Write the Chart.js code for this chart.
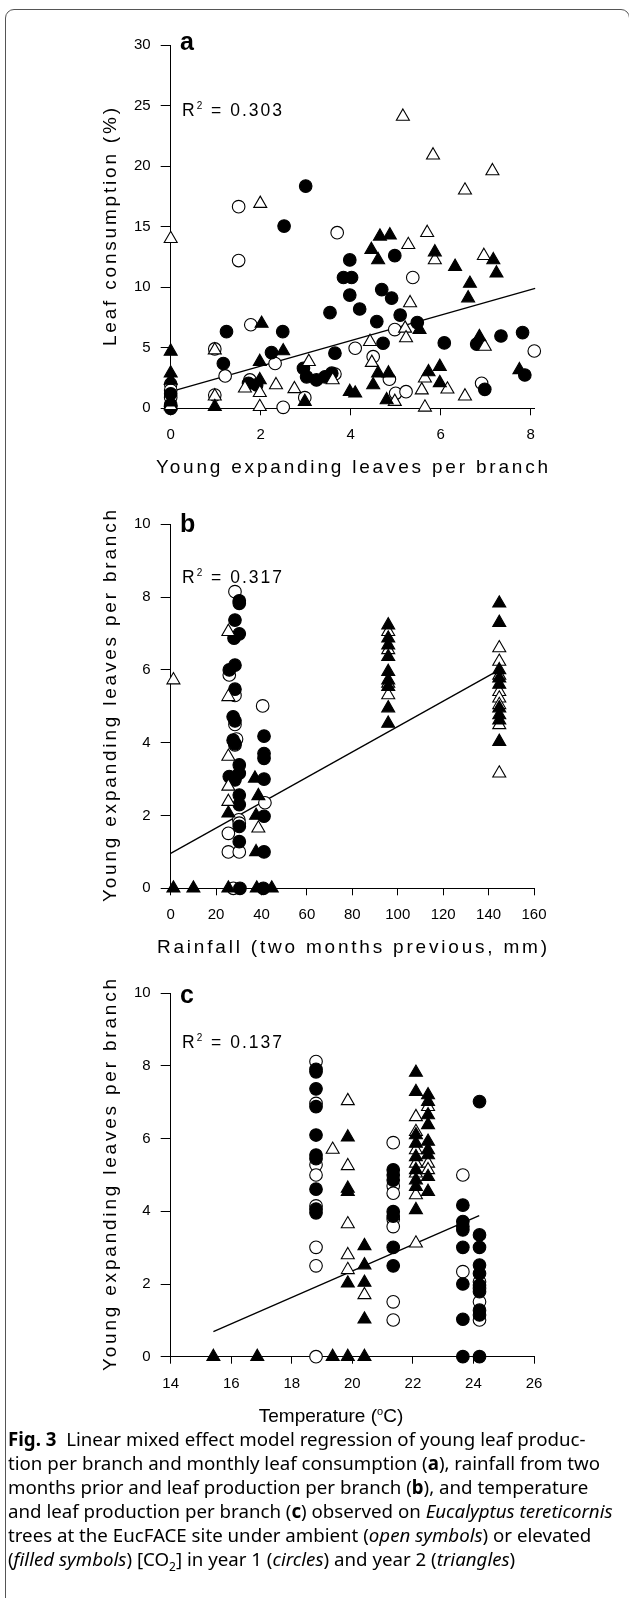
<!DOCTYPE html>
<html>
<head>
<meta charset="utf-8">
<script src="https://cdn.jsdelivr.net/npm/chart.js@4.4.0/dist/chart.umd.min.js"></script>
<style>
  html, body { margin: 0; padding: 0; background: #fff; }
  body { width: 629px; height: 1598px; position: relative; overflow: hidden; font-family: 'Liberation Sans', Arial, sans-serif; color: #000; }
  #frame { position: absolute; left: 5px; top: 9px; width: 625px; height: 1640px; border: 1px solid #555; border-radius: 9px; box-sizing: border-box; }
  canvas { position: absolute; left: 0; }
  .lbl { position: absolute; white-space: nowrap; z-index: 3; }
  .ttl { font-size: 19px; line-height: 19px; letter-spacing: 2.8px; padding-left: 2.8px; }
  .ytl { left: 109px; transform: translate(-50%, -50%) rotate(-90deg); }
  .xtl { left: 352px; transform: translateX(-50%); }
  .tmp { left: 331px; letter-spacing: 0; padding-left: 0; }
  .pl { font-size: 25px; line-height: 25px; font-weight: bold; left: 180px; }
  .r2 { font-size: 17.5px; line-height: 17.5px; letter-spacing: 2px; left: 182px; }
  .r2 sup { font-size: 10px; line-height: 0; vertical-align: 7px; letter-spacing: 0; margin-right: 2px; }
  #cap { position: absolute; left: 8px; top: 1427px; font-family: 'Noto Sans', sans-serif; font-size: 18.7px; line-height: 24.1px; z-index: 3; }
  #cap div { white-space: nowrap; }
  #cap sub { font-size: 12px; line-height: 0; }
</style>
</head>
<body>
<div id="frame"></div>

<canvas id="chartA" width="629" height="480" style="top:0px"></canvas>
<canvas id="chartB" width="629" height="480" style="top:479px"></canvas>
<canvas id="chartC" width="629" height="480" style="top:948px"></canvas>

<div class="lbl pl" style="top:29px">a</div>
<div class="lbl pl" style="top:510.5px">b</div>
<div class="lbl pl" style="top:982px">c</div>

<div class="lbl r2" style="top:102.2px">R<sup>2</sup> = 0.303</div>
<div class="lbl r2" style="top:568.8px">R<sup>2</sup> = 0.317</div>
<div class="lbl r2" style="top:1033.8px">R<sup>2</sup> = 0.137</div>

<div class="lbl ttl ytl" style="top:226.5px">Leaf consumption (%)</div>
<div class="lbl ttl ytl" style="top:706.3px">Young expanding leaves per branch</div>
<div class="lbl ttl ytl" style="top:1175px">Young expanding leaves per branch</div>

<div class="lbl ttl xtl" style="top:457px">Young expanding leaves per branch</div>
<div class="lbl ttl xtl" style="top:937px">Rainfall (two months previous, mm)</div>
<div class="lbl ttl xtl tmp" style="top:1406px">Temperature (<sup style="font-size:11px;line-height:0">o</sup>C)</div>

<div id="cap">
  <div><b>Fig. 3</b>&nbsp; Linear mixed effect model regression of young leaf produc-</div>
  <div>tion per branch and monthly leaf consumption (<b>a</b>), rainfall from two</div>
  <div>months prior and leaf production per branch (<b>b</b>), and temperature</div>
  <div>and leaf production per branch (<b>c</b>) observed on <i>Eucalyptus tereticornis</i></div>
  <div>trees at the EucFACE site under ambient (<i>open symbols</i>) or elevated</div>
  <div>(<i>filled symbols</i>) [CO<sub>2</sub>] in year 1 (<i>circles</i>) and year 2 (<i>triangles</i>)</div>
</div>

<script>
// ---- panel a: leaf consumption (%) vs young expanding leaves per branch
const aXTicks = [0, 2, 4, 6, 8]
const aYTicks = [0, 5, 10, 15, 20, 25, 30]
const aOpenCircles = [[1.51,16.65],[1.51,12.2],[3.7,14.5],[1.78,6.9],[0.98,4.9],[1.21,2.67],[0.98,1.1],[2.32,3.7],[1.76,2.34],[2.5,0.08],[2.98,0.88],[3.65,2.83],[4.1,4.96],[4.5,4.26],[5.38,10.8],[4.98,6.5],[4.86,2.4],[5.0,1.24],[5.23,1.37],[6.91,2.07],[8.08,4.73],[0,2.0],[0,1.5],[0,0.9]]
const aFilledCircles = [[3.0,18.35],[2.52,15.05],[1.24,6.33],[2.49,6.33],[1.17,3.7],[2.24,4.6],[1.73,2.07],[1.91,1.93],[2.95,3.3],[3.02,2.6],[3.24,2.34],[3.43,2.6],[3.58,2.9],[3.65,4.55],[3.54,7.9],[3.84,10.8],[4.02,10.8],[3.98,12.25],[3.98,9.35],[4.2,8.2],[4.69,9.8],[4.91,9.1],[5.1,7.7],[5.48,7.08],[4.58,7.16],[4.72,5.37],[4.98,12.6],[6.08,5.4],[6.8,5.3],[7.34,5.97],[7.82,6.25],[7.87,2.75],[6.98,1.57],[0,0],[0,0.3],[0,1.2]]
const aOpenTriangles = [[0,14.0],[1.99,16.9],[5.16,24.1],[5.83,20.9],[7.15,19.6],[6.54,18.0],[5.7,14.5],[5.28,13.5],[5.87,12.25],[6.96,12.6],[5.32,8.7],[5.21,6.6],[5.23,5.8],[4.43,5.5],[4.47,3.77],[0.98,4.8],[3.07,3.85],[2.34,1.93],[1.65,1.65],[1.98,1.29],[1.98,0.13],[2.75,1.6],[3.6,2.34],[6.98,5.1],[5.65,2.48],[5.58,1.5],[6.15,1.57],[6.54,1.0],[5.65,0.08],[4.98,0.55],[0.98,1.0],[0,0.2]]
const aFilledTriangles = [[0,4.7],[0,2.9],[0,2.3],[0,0.5],[0.98,0.13],[2.02,7.0],[1.98,3.85],[1.98,2.34],[2.5,4.73],[2.98,0.55],[4.1,1.24],[4.65,14.2],[4.87,14.3],[4.46,13.1],[4.61,12.25],[5.87,12.9],[6.32,11.7],[7.17,12.25],[7.24,11.16],[6.65,10.3],[6.61,9.1],[5.53,6.5],[6.86,5.9],[7.75,3.17],[5.73,3.0],[5.98,3.44],[5.98,2.1],[4.61,2.9],[4.84,2.9],[4.5,1.93],[4.8,0.69],[3.98,1.37]]
const aFit = [[0,1.38],[8.1,9.9]]

// ---- panel b: young expanding leaves per branch vs rainfall
const bXTicks = [0, 20, 40, 60, 80, 100, 120, 140, 160]
const bYTicks = [0, 2, 4, 6, 8, 10]
const bOpenCircles = [[28.3,8.15],[25.8,5.86],[28.3,5.3],[28.3,4.5],[29,4.1],[28.3,3.94],[30,1.88],[30.2,1.79],[25.4,1.51],[25.4,1.0],[30.2,1.0],[27.6,0],[40.5,5.01],[41.5,2.35]]
const bFilledCircles = [[30.2,7.83],[30.2,7.9],[28.3,7.37],[30.2,6.99],[27.9,6.87],[28.3,6.13],[25.8,6.0],[28.3,5.47],[27.5,4.71],[28.3,4.6],[27.5,4.07],[28.3,3.97],[30.2,3.39],[30.2,3.16],[25.8,3.07],[28.3,2.98],[30.2,2.56],[30.2,2.3],[30.2,1.7],[30.2,1.28],[30.5,0],[41.1,4.18],[41.1,3.7],[41.1,3.57],[41.1,3.0],[41.1,1.98],[41.1,1.0],[40.8,0]]
const bOpenTriangles = [[1.2,5.72],[25.4,7.05],[25.4,5.26],[25.4,3.62],[25.4,2.8],[25.4,2.38],[38.6,1.65],[95.8,7.05],[95.8,6.55],[95.8,5.63],[95.8,5.31],[144.7,6.6],[144.7,6.23],[144.7,5.85],[144.7,5.4],[144.7,5.22],[144.7,5.04],[144.7,4.49],[144.7,3.16]]
const bFilledTriangles = [[1.2,0],[10,0],[25.4,2.06],[25.4,0],[37.1,3.02],[38.6,2.54],[37.6,2.0],[37.6,1.0],[37.9,0],[44.5,0],[95.8,7.23],[95.8,6.87],[95.8,6.68],[95.8,6.36],[95.8,5.95],[95.8,5.72],[95.8,5.54],[95.8,4.95],[95.8,4.53],[144.7,7.83],[144.7,7.3],[144.7,6.0],[144.7,5.77],[144.7,5.6],[144.7,4.95],[144.7,4.76],[144.7,4.62],[144.7,4.03]]
const bFit = [[0,0.96],[144.7,6.0]]

// ---- panel c: young expanding leaves per branch vs temperature
const cXTicks = [14, 16, 18, 20, 22, 24, 26]
const cYTicks = [0, 2, 4, 6, 8, 10]
const cOpenCircles = [[18.8,8.12],[18.8,6.97],[18.8,5.28],[18.8,5.0],[18.8,4.15],[18.8,3.01],[18.8,2.5],[18.8,0],[21.35,5.89],[21.35,4.7],[21.35,4.5],[21.35,3.78],[21.35,3.58],[21.35,1.51],[21.35,1.01],[23.65,5.0],[23.65,2.34],[24.2,2.06],[24.2,1.88],[24.2,1.51],[24.2,1.01]]
const cFilledCircles = [[18.8,7.91],[18.8,7.84],[18.8,7.37],[18.8,6.88],[18.8,6.1],[18.8,5.55],[18.8,5.45],[18.8,4.61],[18.8,4.06],[18.8,3.96],[21.35,5.14],[21.35,5.0],[21.35,4.86],[21.35,3.99],[21.35,3.87],[21.35,3.01],[21.35,2.5],[23.65,4.17],[23.65,3.72],[23.65,3.58],[23.65,3.49],[23.65,3.01],[23.65,2.0],[23.65,1.03],[23.65,0],[24.2,7.02],[24.2,3.35],[24.2,3.01],[24.2,2.52],[24.2,2.29],[24.2,1.97],[24.2,1.79],[24.2,1.28],[24.2,1.15],[24.2,0]]
const cOpenTriangles = [[19.35,5.7],[19.85,7.04],[19.85,5.25],[19.85,3.65],[19.85,2.8],[19.85,2.39],[20.4,1.7],[22.1,6.6],[22.1,6.19],[22.1,5.69],[22.1,5.32],[22.1,5.05],[22.1,4.45],[22.1,3.12],[22.5,6.88],[22.5,5.32],[22.5,5.14]]
const cFilledTriangles = [[15.41,0],[16.86,0],[19.35,0],[19.85,6.04],[19.85,4.63],[19.85,4.54],[19.85,2.02],[19.85,0],[20.4,3.05],[20.4,2.52],[20.4,2.04],[20.4,1.03],[20.4,0],[22.1,7.82],[22.1,7.29],[22.1,6.1],[22.1,5.87],[22.1,5.5],[22.1,5.14],[22.1,4.86],[22.1,4.68],[22.1,4.04],[22.5,7.2],[22.5,7.02],[22.5,6.65],[22.5,6.38],[22.5,5.92],[22.5,5.69],[22.5,5.55],[22.5,4.95],[22.5,4.54]]
const cFit = [[15.41,0.69],[24.19,3.88]]

const TICK_FONT = { family: "'Liberation Sans', Arial, sans-serif", size: 15 }

function toXY(points) {
  return points.map(([x, y]) => ({ x, y }))
}

function markers(points, style, fill) {
  return {
    data: toXY(points),
    pointStyle: style,
    pointRadius: style === 'triangle' ? 7.5 : 6.3,
    backgroundColor: fill, borderColor: '#000', borderWidth: 1.1,
    showLine: false, clip: false
  }
}

function renderPanel(id, p) {
  new Chart(document.getElementById(id), {
    type: 'scatter',
    data: {
      datasets: [
        // first dataset is drawn on top
        markers(p.filledTriangles, 'triangle', '#000'),
        markers(p.openTriangles, 'triangle', '#fff'),
        markers(p.filledCircles, 'circle', '#000'),
        markers(p.openCircles, 'circle', '#fff'),
        { data: toXY(p.fit), showLine: true, pointRadius: 0, borderColor: '#000', borderWidth: 1.3, clip: false }
      ]
    },
    options: {
      responsive: false, animation: false, events: [],
      layout: { padding: { left: 98, right: 95, top: p.top, bottom: 0 } },
      plugins: { legend: { display: false }, tooltip: { enabled: false } },
      scales: {
        x: {
          type: 'linear', min: p.xMin, max: p.xMax,
          afterBuildTicks: s => { s.ticks = p.xTicks.map(v => ({ value: v })) },
          afterFit: s => { s.height = p.xh },
          grid: { drawOnChartArea: false, tickLength: 7, color: '#000', lineWidth: 1 },
          border: { color: '#000', width: 1 },
          ticks: { color: '#000', font: TICK_FONT, padding: 11, autoSkip: false, maxRotation: 0 }
        },
        y: {
          type: 'linear', min: p.yMin, max: p.yMax,
          afterBuildTicks: s => { s.ticks = p.yTicks.map(v => ({ value: v })) },
          afterFit: s => { s.width = 72.7 },
          grid: { drawOnChartArea: false, tickLength: 10, color: '#000', lineWidth: 1 },
          border: { color: '#000', width: 1 },
          ticks: { color: '#000', font: TICK_FONT, padding: 10, autoSkip: false }
        }
      }
    }
  })
}

renderPanel('chartA', {
  openCircles: aOpenCircles, filledCircles: aFilledCircles,
  openTriangles: aOpenTriangles, filledTriangles: aFilledTriangles, fit: aFit,
  xTicks: aXTicks, yTicks: aYTicks, xMin: 0, xMax: 8.074, yMin: 0, yMax: 30,
  top: 45, xh: 71.7
})
renderPanel('chartB', {
  openCircles: bOpenCircles, filledCircles: bFilledCircles,
  openTriangles: bOpenTriangles, filledTriangles: bFilledTriangles, fit: bFit,
  xTicks: bXTicks, yTicks: bYTicks, xMin: 0, xMax: 160, yMin: 0, yMax: 10,
  top: 45.3, xh: 70.7
})
renderPanel('chartC', {
  openCircles: cOpenCircles, filledCircles: cFilledCircles,
  openTriangles: cOpenTriangles, filledTriangles: cFilledTriangles, fit: cFit,
  xTicks: cXTicks, yTicks: cYTicks, xMin: 14, xMax: 26, yMin: 0, yMax: 10,
  top: 45.3, xh: 71.3
})
</script>
</body>
</html>
